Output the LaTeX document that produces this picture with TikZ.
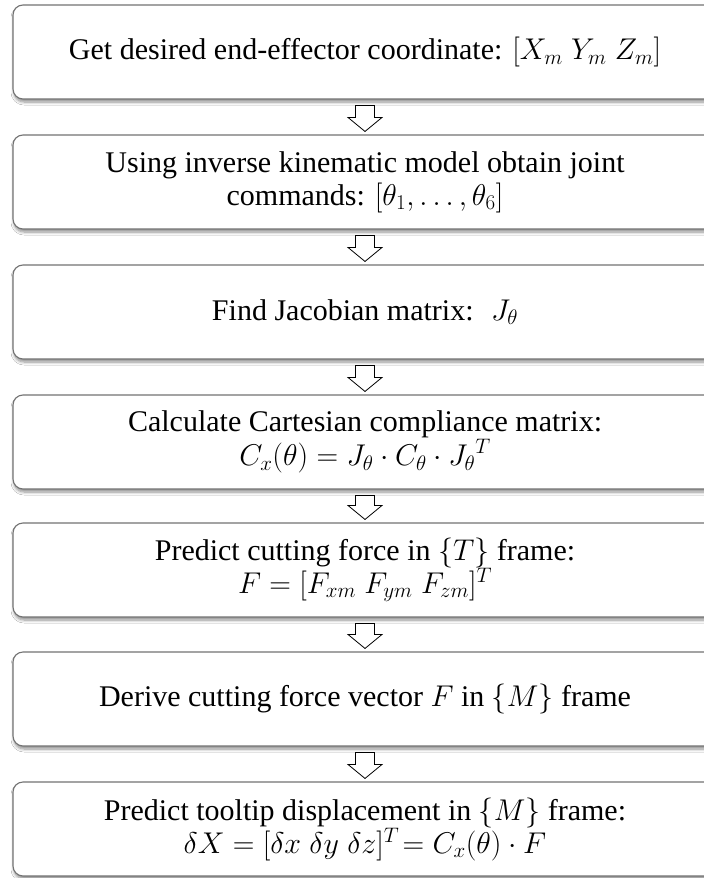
\RequirePackage{fix-cm}
\documentclass[tikz,border=0pt]{standalone}
\usepackage{fontspec}
\setmainfont{Liberation Serif}
\usetikzlibrary{calc,shadows.blur}
\definecolor{boxline}{RGB}{115,115,115}
\tikzset{
  stepbox/.style={rectangle, draw=boxline, line width=1.1pt, fill=white,
    rounded corners=10pt, minimum width=704pt, minimum height=94pt,
    align=center, inner sep=0pt,
    font=\fontsize{30}{33}\selectfont,
    blur shadow={shadow xshift=1pt, shadow yshift=-3pt,
      shadow blur radius=3pt, shadow blur steps=6, shadow opacity=45}},
  blockarrow/.style={draw=black, line width=0.8pt, fill=white, line join=miter}
}
\newcommand{\flowarrow}[2]{%
  \draw[blockarrow] let \p1=(#1.south), \p2=(#2.north) in
    (\x1-9.5pt,\y1-6pt) -- (\x1+9.5pt,\y1-6pt) -- (\x1+9.5pt,\y2+17pt) --
    (\x1+17pt,\y2+17pt) -- (\x1,\y2+3pt) -- (\x1-17pt,\y2+17pt) --
    (\x1-9.5pt,\y2+17pt) -- cycle;}
\begin{document}
\begin{tikzpicture}[x=1pt,y=1pt]
  \fill[white] (0,0) rectangle (704,-878);
  \useasboundingbox (0,0) rectangle (704,-878);

  \node[stepbox] (b1) at (365,-52)
    {Get desired end-effector coordinate: $[X_m\;Y_m\;Z_m]$};
  \node[stepbox] (b2) at (365,-182)
    {Using inverse kinematic model obtain joint\\commands: $[\theta_1, \dots, \theta_6]$};
  \node[stepbox] (b3) at (365,-312)
    {Find Jacobian matrix: \ $J_\theta$};
  \node[stepbox] (b4) at (365,-442)
    {Calculate Cartesian compliance matrix:\\$C_x(\theta) = J_\theta\cdot C_\theta\cdot {J_\theta}^T$};
  \node[stepbox] (b5) at (365,-570)
    {Predict cutting force in $\{T\}$ frame:\\$F = [F_{xm}\;F_{ym}\;F_{zm}]^T$};
  \node[stepbox] (b6) at (365,-699)
    {Derive cutting force vector $F$ in $\{M\}$ frame};
  \node[stepbox] (b7) at (365,-829)
    {Predict tooltip displacement in $\{M\}$ frame:\\$\delta X = [\delta x\;\delta y\;\delta z]^T\!= C_x(\theta)\cdot F$};

  \flowarrow{b1}{b2}
  \flowarrow{b2}{b3}
  \flowarrow{b3}{b4}
  \flowarrow{b4}{b5}
  \flowarrow{b5}{b6}
  \flowarrow{b6}{b7}
\end{tikzpicture}
\end{document}
